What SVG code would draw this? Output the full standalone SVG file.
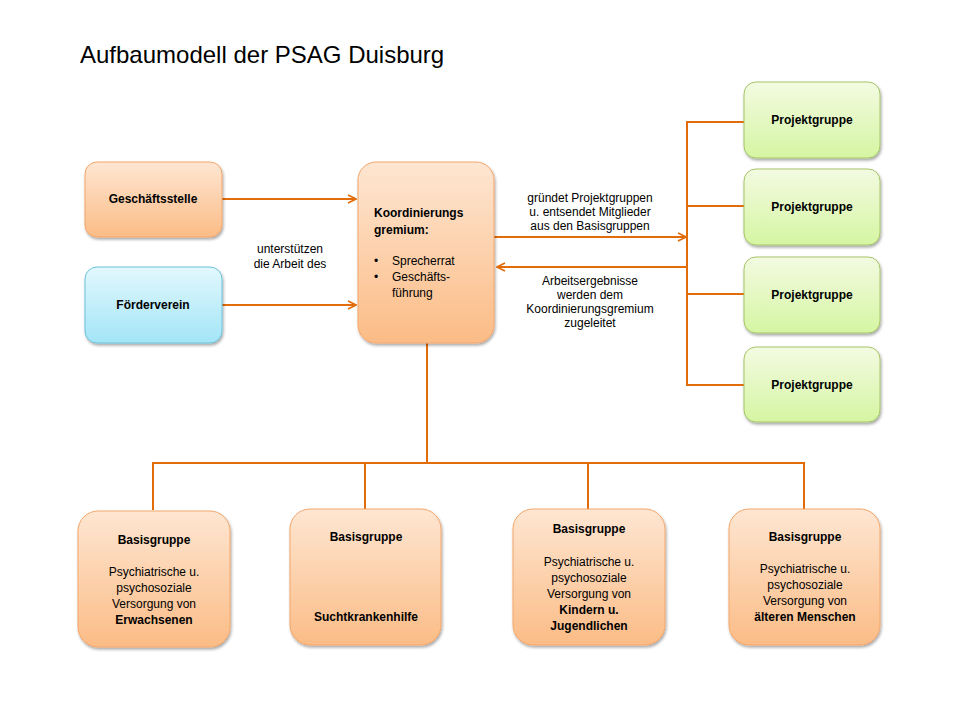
<svg xmlns="http://www.w3.org/2000/svg" width="960" height="720" viewBox="0 0 960 720">
<defs>
<linearGradient id="gO" x1="0" y1="0" x2="0" y2="1"><stop offset="0" stop-color="#fee6d2"/><stop offset="1" stop-color="#fbbc86"/></linearGradient>
<linearGradient id="gB" x1="0" y1="0" x2="0" y2="1"><stop offset="0" stop-color="#e2f8fd"/><stop offset="1" stop-color="#a3e5f7"/></linearGradient>
<linearGradient id="gG" x1="0" y1="0" x2="0" y2="1"><stop offset="0" stop-color="#f3fbe2"/><stop offset="1" stop-color="#d5f5a2"/></linearGradient>
<filter id="sh" x="-10%" y="-10%" width="130%" height="130%"><feGaussianBlur in="SourceAlpha" stdDeviation="1.5"/><feOffset dx="1" dy="2"/><feComponentTransfer><feFuncA type="linear" slope="0.35"/></feComponentTransfer><feMerge><feMergeNode/><feMergeNode in="SourceGraphic"/></feMerge></filter>
<marker id="ar" viewBox="0 0 10 10" refX="9" refY="5" markerWidth="10" markerHeight="10" markerUnits="userSpaceOnUse" orient="auto"><path d="M1,1 L9,5 L1,9" fill="none" stroke="#e36c0a" stroke-width="1.6"/></marker>
<style>
.o{fill:url(#gO);stroke:#f4a66a;stroke-width:1;filter:url(#sh)}
.b{fill:url(#gB);stroke:#6cc3dd;stroke-width:1;filter:url(#sh)}
.g{fill:url(#gG);stroke:#a6c468;stroke-width:1;filter:url(#sh)}
.c{fill:none;stroke:#e36c0a;stroke-width:2}
text{font-family:"Liberation Sans","Noto Sans",sans-serif;font-size:12px;fill:#000}
.t{font-weight:bold}
.m{text-anchor:middle}
</style>
</defs>
<text x="80" y="63" style="font-size:24px" font-family="Liberation Sans, sans-serif">Aufbaumodell der PSAG Duisburg</text>
<g id="connectors">
<line class="c" x1="222" y1="199" x2="356" y2="199" marker-end="url(#ar)"/>
<line class="c" x1="222" y1="305" x2="356" y2="305" marker-end="url(#ar)"/>
<line class="c" x1="494" y1="237" x2="686" y2="237" marker-end="url(#ar)"/>
<line class="c" x1="687" y1="267" x2="497" y2="267" marker-end="url(#ar)"/>
<polyline class="c" points="744,122 687,122 687,385 744,385"/>
<line class="c" x1="687" y1="206" x2="744" y2="206"/>
<line class="c" x1="687" y1="294" x2="744" y2="294"/>
<line class="c" x1="427" y1="343" x2="427" y2="463"/>
<polyline class="c" points="153,510 153,463 804,463 804,510"/>
<line class="c" x1="365" y1="463" x2="365" y2="509"/>
<line class="c" x1="588" y1="463" x2="588" y2="509"/>
<text class="m" x="290" y="253">unterstützen</text>
<text class="m" x="290" y="268">die Arbeit des</text>
<text class="m" x="590" y="202">gründet Projektgruppen</text>
<text class="m" x="590" y="216">u. entsendet Mitglieder</text>
<text class="m" x="590" y="230">aus den Basisgruppen</text>
<text class="m" x="590" y="285">Arbeitsergebnisse</text>
<text class="m" x="590" y="299">werden dem</text>
<text class="m" x="590" y="313">Koordinierungsgremium</text>
<text class="m" x="590" y="327">zugeleitet</text>
</g>
<g id="geschaeftsstelle"><rect class="o" x="85" y="162" width="137" height="75" rx="12"/><text class="t m" x="153" y="203">Geschäftsstelle</text></g>
<g id="foerderverein"><rect class="b" x="85" y="267" width="137" height="76" rx="12"/><text class="t m" x="153" y="309">Förderverein</text></g>
<g id="koordinierungsgremium"><rect class="o" x="358" y="162" width="136" height="181" rx="18"/>
<text class="t" x="374" y="217">Koordinierungs</text><text class="t" x="374" y="234">gremium:</text>
<text x="374" y="265">•</text><text x="392" y="265">Sprecherrat</text>
<text x="374" y="281">•</text><text x="392" y="281">Geschäfts-</text><text x="392" y="297">führung</text></g>
<g id="projektgruppe1"><rect class="g" x="744" y="82" width="136" height="76" rx="12"/><text class="t m" x="812" y="124">Projektgruppe</text></g>
<g id="projektgruppe2"><rect class="g" x="744" y="169" width="136" height="76" rx="12"/><text class="t m" x="812" y="211">Projektgruppe</text></g>
<g id="projektgruppe3"><rect class="g" x="744" y="257" width="136" height="76" rx="12"/><text class="t m" x="812" y="299">Projektgruppe</text></g>
<g id="projektgruppe4"><rect class="g" x="744" y="347" width="136" height="75" rx="12"/><text class="t m" x="812" y="389">Projektgruppe</text></g>
<g id="basisgruppe1"><rect class="o" x="78" y="511" width="152" height="136" rx="20"/>
<text class="t m" x="154" y="544">Basisgruppe</text>
<text class="m" x="154" y="576">Psychiatrische  u.</text><text class="m" x="154" y="592">psychosoziale</text><text class="m" x="154" y="608">Versorgung von</text><text class="t m" x="154" y="624">Erwachsenen</text></g>
<g id="basisgruppe2"><rect class="o" x="290" y="509" width="151" height="136" rx="20"/>
<text class="t m" x="366" y="541">Basisgruppe</text><text class="t m" x="366" y="621">Suchtkrankenhilfe</text></g>
<g id="basisgruppe3"><rect class="o" x="513" y="509" width="152" height="136" rx="20"/>
<text class="t m" x="589" y="533">Basisgruppe</text>
<text class="m" x="589" y="566">Psychiatrische  u.</text><text class="m" x="589" y="582">psychosoziale</text><text class="m" x="589" y="598">Versorgung von</text><text class="t m" x="589" y="614">Kindern  u.</text><text class="t m" x="589" y="630">Jugendlichen</text></g>
<g id="basisgruppe4"><rect class="o" x="729" y="509" width="151" height="136" rx="20"/>
<text class="t m" x="805" y="541">Basisgruppe</text>
<text class="m" x="805" y="573">Psychiatrische  u.</text><text class="m" x="805" y="589">psychosoziale</text><text class="m" x="805" y="605">Versorgung von</text><text class="t m" x="805" y="621">älteren Menschen</text></g>
</svg>
